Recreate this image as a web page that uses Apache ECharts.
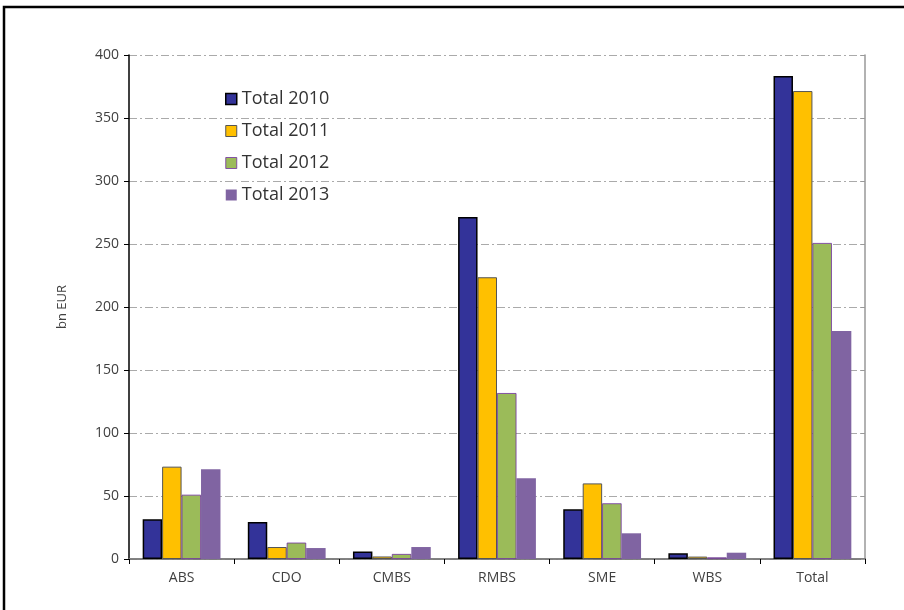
<!DOCTYPE html>
<html><head><meta charset="utf-8">
<script src="https://cdn.jsdelivr.net/npm/echarts@6/dist/echarts.min.js"></script>
<style>html,body{margin:0;padding:0;background:#fff}#c{width:904px;height:610px}</style>
</head><body><div id="c"></div>
<script>
const categories = ['ABS','CDO','CMBS','RMBS','SME','WBS','Total'];
const seriesNames = ['Total 2010','Total 2011','Total 2012','Total 2013'];
const total2010 = [31.5, 29.4, 6, 271.5, 39.4, 4.5, 383.3];
const total2011 = [73.3, 9.5, 2, 223.6, 60, 1.9, 371.4];
const total2012 = [51, 13, 4, 131.7, 44.2, 1.3, 250.8];
const total2013 = [71.2, 8.7, 9.5, 64, 20.4, 5, 180.9];
const yTicks = [0,50,100,150,200,250,300,350,400];

const colors = ['#333399','#FFC000','#9BBB59','#8064A2'];
const borders = [{c:'#000000',w:1.5},{c:'#555555',w:1},{c:'#7030A0',w:0.8},{c:'#8064A2',w:0}];
const dataSets = [total2010,total2011,total2012,total2013];
const font = '"Open Sans", "DejaVu Sans", sans-serif';

const chart = echarts.init(document.getElementById('c'), null, {renderer:'canvas'});
chart.setOption({
  animation:false,
  backgroundColor:'#fff',
  textStyle:{fontFamily:font},
  graphic:[{type:'rect',shape:{x:4,y:7,width:1200,height:1200},style:{fill:'none',stroke:'#000',lineWidth:2.5},silent:true,z:100}],
  legend:{
    orient:'vertical', left:220, top:85, itemGap:14,
    itemWidth:11, itemHeight:11,
    textStyle:{fontSize:18, color:'#333', fontFamily:font},
    data:seriesNames.map((n,i)=>({name:n, icon:'rect', itemStyle:{color:colors[i], borderColor:borders[i].c, borderWidth:borders[i].w}}))
  },
  grid:{left:129, right:39, top:55, bottom:51, containLabel:false},
  xAxis:[{
    type:'category', data:categories, position:'bottom',
    axisLine:{lineStyle:{color:'#000',width:1.5}},
    axisTick:{show:true, alignWithLabel:false, length:5, lineStyle:{color:'#000'}},
    axisLabel:{color:'#404040', fontSize:14, margin:12, fontFamily:font}
  },{
    type:'category', data:categories, position:'top',
    axisLine:{show:true, lineStyle:{color:'#999',width:1.5}},
    axisTick:{show:false}, axisLabel:{show:false}
  }],
  yAxis:[{
    type:'value', min:0, max:400, interval:50,
    name:'bn EUR', nameLocation:'middle', nameGap:60, nameRotate:90,
    nameTextStyle:{color:'#404040', fontSize:13, fontFamily:font},
    axisLine:{show:true, lineStyle:{color:'#000',width:1.5}},
    axisTick:{show:true, length:5, lineStyle:{color:'#000'}},
    axisLabel:{color:'#404040', fontSize:14, margin:10, fontFamily:font,
      formatter:v=>yTicks.includes(v)?String(v):''},
    splitLine:{show:true, lineStyle:{color:'#aaaaaa', width:1, type:[8,3,2,3]}}
  },{
    type:'value', min:0, max:400, interval:50, position:'right',
    axisLine:{show:true, lineStyle:{color:'#999',width:1.5}},
    axisTick:{show:true, inside:true, length:4, lineStyle:{color:'#999'}},
    axisLabel:{show:false}, splitLine:{show:false}
  }],
  series:dataSets.map((d,i)=>({
    name:seriesNames[i], type:'bar', data:d, barGap:'0%', barCategoryGap:'26%',
    itemStyle:{color:colors[i], borderColor:borders[i].c, borderWidth:borders[i].w}
  }))
});
</script></body></html>
